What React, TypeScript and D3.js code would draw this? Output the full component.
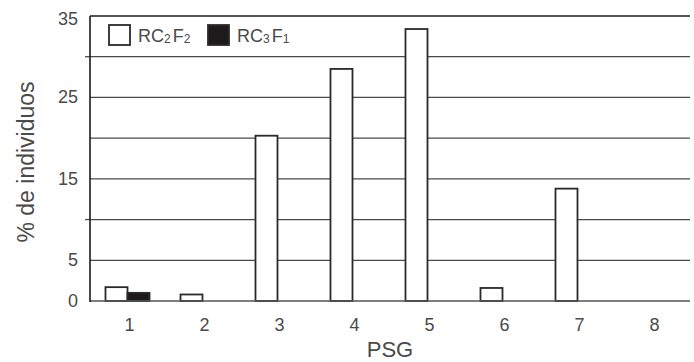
import * as d3 from 'd3';
import React, { useEffect, useRef } from 'react';

// PSG classes on the x axis
const categories = ['1', '2', '3', '4', '5', '6', '7', '8'];
const seriesNames = ['RC2F2', 'RC3F1'];
// % de individuos
const rc2f2 = [1.7, 0.8, 20.3, 28.5, 33.4, 1.6, 13.8, 0];
const rc3f1 = [1.0, 0, 0, 0, 0, 0, 0, 0];
const yTickLabels = [0, 5, 15, 25, 35];
const gridValues = [5, 10, 15, 20, 25, 30, 35];
const leftTicks = [10, 30];

const font = '"Liberation Sans", Arial, sans-serif';
const textColor = '#4a4a4a';

const App = () => {
    const svgRef = useRef(null);
    const width = 694;
    const height = 362;
    const margin = { top: 16, right: 4, bottom: 61, left: 90 };

    useEffect(() => {
        const svg = d3.select(svgRef.current);
        svg.selectAll('*').remove();

        const x = d3.scaleBand()
            .domain(categories)
            .range([margin.left, width - margin.right])
            .paddingInner(0.413)
            .paddingOuter(0.2065);

        const sub = d3.scaleBand()
            .domain(seriesNames)
            .range([0, x.bandwidth()]);

        const y = d3.scaleLinear()
            .domain([0, 35])
            .range([height - margin.bottom, margin.top]);

        // horizontal grid lines
        svg.append('g')
            .selectAll('line')
            .data(gridValues)
            .enter()
            .append('line')
            .attr('x1', margin.left)
            .attr('x2', width - margin.right)
            .attr('y1', (d) => y(d))
            .attr('y2', (d) => y(d))
            .attr('stroke', (d) => (d === 35 ? '#1a1a1a' : '#4a4a4a'))
            .attr('stroke-width', (d) => (d === 35 ? 1.6 : 1.3));

        // small outside ticks
        svg.append('g')
            .selectAll('line')
            .data(leftTicks)
            .enter()
            .append('line')
            .attr('x1', margin.left - 5)
            .attr('x2', margin.left)
            .attr('y1', (d) => y(d))
            .attr('y2', (d) => y(d))
            .attr('stroke', '#4a4a4a')
            .attr('stroke-width', 1.3);

        // bars
        const series = [
            { name: seriesNames[0], values: rc2f2, fill: '#ffffff' },
            { name: seriesNames[1], values: rc3f1, fill: '#1e1a1b' },
        ];
        series.forEach((s) => {
            svg.append('g')
                .selectAll('rect')
                .data(categories.map((c, i) => ({ c, v: s.values[i] })).filter((d) => d.v > 0))
                .enter()
                .append('rect')
                .attr('x', (d) => x(d.c) + sub(s.name))
                .attr('width', sub.bandwidth())
                .attr('y', (d) => y(d.v))
                .attr('height', (d) => y(0) - y(d.v))
                .attr('fill', s.fill)
                .attr('stroke', '#2a2a2a')
                .attr('stroke-width', 1.8);
        });

        // axes lines
        svg.append('line')
            .attr('x1', margin.left).attr('x2', width - margin.right)
            .attr('y1', y(0)).attr('y2', y(0))
            .attr('stroke', '#555').attr('stroke-width', 1.5);
        svg.append('line')
            .attr('x1', margin.left).attr('x2', margin.left)
            .attr('y1', y(35)).attr('y2', y(0) + 1)
            .attr('stroke', '#1a1a1a').attr('stroke-width', 1.6);

        // y tick labels
        svg.append('g')
            .selectAll('text')
            .data(yTickLabels)
            .enter()
            .append('text')
            .attr('x', 78)
            .attr('y', (d) => y(d) + (d === 35 ? 9 : 6))
            .attr('text-anchor', 'end')
            .attr('font-family', font)
            .attr('font-size', 18)
            .attr('fill', textColor)
            .text((d) => d);

        // x tick labels
        svg.append('g')
            .selectAll('text')
            .data(categories)
            .enter()
            .append('text')
            .attr('x', (d) => x(d) + x.bandwidth() / 2 + 2)
            .attr('y', 331)
            .attr('text-anchor', 'middle')
            .attr('font-family', font)
            .attr('font-size', 18)
            .attr('fill', textColor)
            .text((d) => d);

        // axis titles
        svg.append('text')
            .attr('x', (margin.left + width - margin.right) / 2)
            .attr('y', 357)
            .attr('text-anchor', 'middle')
            .attr('font-family', font)
            .attr('font-size', 22)
            .attr('fill', textColor)
            .text('PSG');

        svg.append('text')
            .attr('transform', 'translate(34,162) rotate(-90)')
            .attr('text-anchor', 'middle')
            .attr('font-family', font)
            .attr('font-size', 23)
            .attr('fill', textColor)
            .text('% de individuos');

        // legend
        const legend = [
            { fill: '#ffffff', base: 'RC', s1: '2', mid: 'F', s2: '2', x: 109 },
            { fill: '#1e1a1b', base: 'RC', s1: '3', mid: 'F', s2: '1', x: 208 },
        ];
        legend.forEach((l) => {
            svg.append('rect')
                .attr('x', l.x).attr('y', 25)
                .attr('width', 21).attr('height', 20)
                .attr('fill', l.fill)
                .attr('stroke', '#2a2a2a').attr('stroke-width', 1.8);
            const t = svg.append('text')
                .attr('x', l.x + 29).attr('y', 42)
                .attr('font-family', font)
                .attr('font-size', 18)
                .attr('fill', textColor);
            t.append('tspan').text(l.base);
            t.append('tspan').attr('font-size', 12).attr('dy', 1).text(l.s1);
            t.append('tspan').attr('dy', -1).attr('dx', 2).text(l.mid);
            t.append('tspan').attr('font-size', 12).attr('dy', 1).text(l.s2);
        });
    }, []);

    return (
        <div style={{ position: 'absolute', left: 0, top: 0 }}>
            <svg ref={svgRef} width={width} height={height} style={{ display: 'block', background: '#fff' }}></svg>
        </div>
    );
};

export default App;
